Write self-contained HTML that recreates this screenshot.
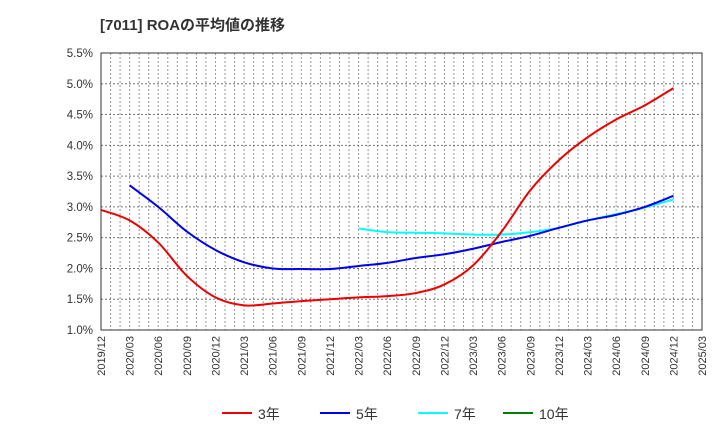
<!DOCTYPE html>
<html><head><meta charset="utf-8"><style>
body{margin:0;background:#fff;font-family:"Liberation Sans","Noto Sans CJK JP",sans-serif}
</style></head><body>
<svg id="c" width="720" height="440" xmlns="http://www.w3.org/2000/svg">
<text x="100" y="30" font-size="15" font-weight="bold" fill="#333" font-family="Liberation Sans,Noto Sans CJK JP,sans-serif">[7011]  ROAの平均値の推移</text>
<g id="grid"></g><g id="axes"></g><g id="series"></g><g id="legend"></g>
</svg>
<script>
const categories=["2019/12","2020/03","2020/06","2020/09","2020/12","2021/03","2021/06","2021/09","2021/12","2022/03","2022/06","2022/09","2022/12","2023/03","2023/06","2023/09","2023/12","2024/03","2024/06","2024/09","2024/12","2025/03"];
const yTicks=[1.0,1.5,2.0,2.5,3.0,3.5,4.0,4.5,5.0,5.5];
const s3=[2.95,2.78,2.42,1.88,1.53,1.40,1.43,1.47,1.50,1.53,1.55,1.60,1.74,2.05,2.6,3.27,3.76,4.13,4.42,4.65,4.93];
const s5=[null,3.35,3.0,2.6,2.3,2.1,2.0,1.99,1.99,2.04,2.09,2.17,2.23,2.32,2.43,2.53,2.66,2.78,2.87,3.0,3.18];
const s7=[null,null,null,null,null,null,null,null,null,2.65,2.59,2.58,2.57,2.55,2.55,2.59,2.66,2.78,2.88,2.99,3.12];
const s10=[];
const NS="http://www.w3.org/2000/svg";
const L=101,R=702,T=53,B=330;
const xS=i=>L+(R-L)*i/(categories.length-1);
const yS=v=>B-(v-1.0)/(5.5-1.0)*(B-T);
function mk(tag,attrs,parent){const e=document.createElementNS(NS,tag);for(const k in attrs)e.setAttribute(k,attrs[k]);parent.appendChild(e);return e;}
const grid=document.getElementById('grid'),axes=document.getElementById('axes'),ser=document.getElementById('series'),leg=document.getElementById('legend');
const months=(categories.length-1)*3;
for(let m=1;m<months;m++){const x=L+(R-L)*m/months;
const g=mk('line',{x1:x,x2:x,y1:T,y2:B,stroke:'#999','stroke-dasharray':'2,2','stroke-width':1},grid);

}
yTicks.forEach(v=>{const y=yS(v);
const g=mk('line',{x1:L,x2:R,y1:y,y2:y,stroke:'#777','stroke-dasharray':'2,2','stroke-width':1},grid);


const t=mk('text',{x:L-8,y:y+4,'text-anchor':'end','font-size':11.5,fill:'#333'},axes);t.textContent=v.toFixed(1)+'%';

});
const fr=mk('rect',{x:L,y:T,width:R-L,height:B-T,fill:'none',stroke:'#333','stroke-width':1},axes);


categories.forEach((c,i)=>{const x=xS(i);const t=mk('text',{transform:`translate(${x+4},${B+6}) rotate(-90)`,'text-anchor':'end','font-size':11,fill:'#333'},axes);t.textContent=c;

});
function path(data,color,name){const pts=[];data.forEach((v,i)=>{if(v!=null)pts.push([xS(i),yS(v)]);});if(pts.length<2)return;
let d=`M${pts[0][0]},${pts[0][1]}`;
for(let i=0;i<pts.length-1;i++){const p0=pts[Math.max(0,i-1)],p1=pts[i],p2=pts[i+1],p3=pts[Math.min(pts.length-1,i+2)];
const c1=[p1[0]+(p2[0]-p0[0])/6,p1[1]+(p2[1]-p0[1])/6],c2=[p2[0]-(p3[0]-p1[0])/6,p2[1]-(p3[1]-p1[1])/6];
d+=` C${c1[0]},${c1[1]} ${c2[0]},${c2[1]} ${p2[0]},${p2[1]}`;}
const p=mk('path',{d,fill:'none',stroke:color,'stroke-width':2},ser);

}
path(s7,'#00ffff','series-7y');path(s5,'#0000ee','series-5y');path(s3,'#ee0000','series-3y');path(s10,'#008000','series-10y');
[['3年','#ee0000',222],['5年','#0000ee',320],['7年','#00ffff',418],['10年','#008000',503]].forEach(([n,c,x])=>{
const g=mk('g',{},leg);


mk('line',{x1:x,x2:x+30,y1:413,y2:413,stroke:c,'stroke-width':2},g);
const t=mk('text',{x:x+36,y:419,'font-size':14,fill:'#333'},g);t.textContent=n;});
</script>
</body></html>
